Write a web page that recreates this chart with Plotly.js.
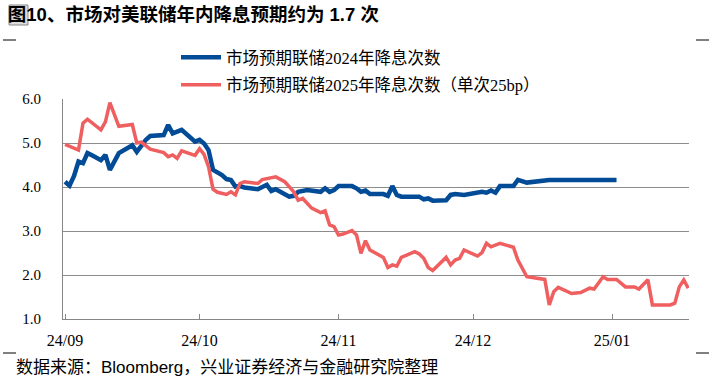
<!DOCTYPE html>
<html>
<head>
<meta charset="utf-8">
<script src="https://cdn.plot.ly/plotly-3.0.1.min.js"></script>
<style>html,body{margin:0;padding:0;background:#fff;}#chart{width:712px;height:380px;}</style>
</head>
<body>
<div id="chart"></div>
<script>
const titleText = "图10、市场对美联储年内降息预期约为 1.7 次";
const sourceText = "数据来源：Bloomberg，兴业证券经济与金融研究院整理";
const seriesNames = ["市场预期联储2024年降息次数", "市场预期联储2025年降息次数（单次25bp）"];
const tickDates = ["2024-09-01", "2024-10-01", "2024-11-01", "2024-12-01", "2025-01-01"];
const tickLabels = ["24/09", "24/10", "24/11", "24/12", "25/01"];

const dates2024 = ["2024-09-01","2024-09-02","2024-09-03","2024-09-04","2024-09-05","2024-09-06","2024-09-07","2024-09-09","2024-09-10","2024-09-11","2024-09-13","2024-09-15","2024-09-16","2024-09-17","2024-09-19","2024-09-20","2024-09-23","2024-09-24","2024-09-25","2024-09-27","2024-09-30",
"2024-10-01","2024-10-02","2024-10-03","2024-10-04","2024-10-06","2024-10-07","2024-10-08","2024-10-09","2024-10-10","2024-10-11","2024-10-14","2024-10-16","2024-10-17","2024-10-18","2024-10-21","2024-10-22","2024-10-23","2024-10-25","2024-10-28","2024-10-29","2024-10-30","2024-10-31",
"2024-11-01","2024-11-04","2024-11-05","2024-11-06","2024-11-07","2024-11-08","2024-11-11","2024-11-12","2024-11-13","2024-11-14","2024-11-15","2024-11-19","2024-11-20","2024-11-21","2024-11-22","2024-11-25","2024-11-26","2024-11-27","2024-11-29","2024-11-30",
"2024-12-01","2024-12-03","2024-12-04","2024-12-05","2024-12-06","2024-12-07","2024-12-10","2024-12-11","2024-12-13","2024-12-15","2024-12-18","2024-12-25","2025-01-02"];
const values2024 = [4.12,4.03,4.25,4.58,4.54,4.77,4.72,4.61,4.73,4.39,4.77,4.88,4.95,4.80,5.07,5.16,5.18,5.41,5.22,5.30,5.03,
5.07,4.99,4.84,4.39,4.27,4.18,4.16,4.01,4.02,3.99,3.95,4.05,3.91,3.95,3.78,3.80,3.89,3.93,3.89,3.97,3.89,3.93,
4.02,4.02,3.97,3.89,3.92,3.84,3.84,3.80,4.02,3.82,3.78,3.78,3.72,3.74,3.69,3.70,3.82,3.84,3.82,3.84,
3.87,3.89,3.87,3.92,3.87,4.02,4.02,4.16,4.10,4.12,4.16,4.16,4.16];

const dates2025 = ["2024-09-01","2024-09-02","2024-09-04","2024-09-05","2024-09-06","2024-09-09","2024-09-10","2024-09-11","2024-09-13","2024-09-16","2024-09-17","2024-09-18","2024-09-20","2024-09-23","2024-09-24","2024-09-25","2024-09-26","2024-09-27","2024-09-30",
"2024-10-01","2024-10-02","2024-10-03","2024-10-04","2024-10-05","2024-10-07","2024-10-08","2024-10-09","2024-10-10","2024-10-11","2024-10-14","2024-10-15","2024-10-18","2024-10-20","2024-10-21","2024-10-22","2024-10-23","2024-10-24","2024-10-26","2024-10-28","2024-10-29","2024-10-30","2024-10-31",
"2024-11-01","2024-11-02","2024-11-04","2024-11-05","2024-11-06","2024-11-07","2024-11-08","2024-11-11","2024-11-12","2024-11-13","2024-11-14","2024-11-15","2024-11-18","2024-11-19","2024-11-20","2024-11-21","2024-11-22","2024-11-25","2024-11-26","2024-11-27","2024-11-28","2024-11-29",
"2024-12-01","2024-12-02","2024-12-03","2024-12-04","2024-12-05","2024-12-07","2024-12-10","2024-12-11","2024-12-13","2024-12-15","2024-12-17","2024-12-18","2024-12-19","2024-12-20","2024-12-23","2024-12-25","2024-12-27","2024-12-28","2024-12-30","2024-12-31",
"2025-01-02","2025-01-04","2025-01-06","2025-01-07","2025-01-09","2025-01-10","2025-01-14","2025-01-15","2025-01-16","2025-01-17","2025-01-18"];
const values2025 = [4.97,4.92,4.84,5.45,5.54,5.30,5.48,5.92,5.38,5.42,5.00,5.02,4.86,4.78,4.69,4.73,4.65,4.82,4.72,
4.87,4.74,4.46,3.95,3.88,3.83,3.89,3.82,4.08,4.12,4.08,4.17,4.23,4.12,4.01,3.89,3.70,3.74,3.52,3.42,3.46,3.14,3.10,
2.91,2.93,3.01,2.91,2.49,2.78,2.57,2.40,2.17,2.23,2.20,2.40,2.53,2.48,2.38,2.17,2.10,2.40,2.23,2.34,2.38,2.57,
2.49,2.43,2.51,2.72,2.64,2.72,2.63,2.34,1.96,1.92,1.90,1.32,1.62,1.72,1.58,1.60,1.70,1.68,1.96,1.90,
1.90,1.73,1.73,1.68,1.89,1.32,1.32,1.36,1.73,1.89,1.70];

const serif = "'Times New Roman', 'Liberation Serif', 'Noto Sans CJK SC', serif";
const sans = "Arial, 'Liberation Sans', 'Noto Sans CJK SC', sans-serif";
const axisGray = "#868686";

const traces = [
  {x: dates2024, y: values2024, name: seriesNames[0], type: "scatter", mode: "lines",
   line: {color: "#024B96", width: 4.5}, legendgroup: "a"},
  {x: dates2025, y: values2025, name: seriesNames[1], type: "scatter", mode: "lines",
   line: {color: "#EF5F60", width: 3.5}, legendgroup: "b"}
];

function px2x(p){ return (p - 63) / 626; }
function px2y(p){ return (319 - p) / 220; }

const markShapes = [];
[[3,16],[696,709]].forEach(function(seg){
  [40, 353].forEach(function(yy){
    markShapes.push({type:"line", xref:"paper", yref:"paper", x0:px2x(seg[0]), x1:px2x(seg[1]), y0:px2y(yy), y1:px2y(yy), line:{color:"#000", width:1}});
  });
});
markShapes.push({type:"rect", xref:"paper", yref:"paper", x0:px2x(9), x1:px2x(28), y0:px2y(25), y1:px2y(5),
  fillcolor:"rgba(190,190,190,0.55)", line:{color:"#888888", width:1}, layer:"above"});

const layout = {
  width: 712, height: 380,
  margin: {l: 63, r: 23, t: 99, b: 61, pad: 0},
  paper_bgcolor: "#ffffff", plot_bgcolor: "rgba(0,0,0,0)",
  title: {text: "<b>" + titleText + "</b>", x: 0.011, xanchor: "left", xref: "container",
          y: 1 - 15/380, yanchor: "middle", yref: "container",
          font: {family: sans, size: 18.5, color: "#000"}},
  showlegend: true,
  legend: {x: px2x(176), xanchor: "left", y: px2y(40), yanchor: "top",
           orientation: "v", traceorder: "grouped", tracegroupgap: 3,
           font: {family: serif, size: 16.5, color: "#000"}, bgcolor: "rgba(0,0,0,0)", itemwidth: 40},
  xaxis: {type: "date", range: ["2024-08-31 13:00", "2025-01-18 04:00"],
          tickmode: "array", tickvals: tickDates, ticktext: tickLabels,
          ticks: "inside", ticklen: 5, tickcolor: axisGray, tickwidth: 1,
          showline: true, linecolor: axisGray, linewidth: 1, showgrid: false, zeroline: false,
          ticklabelstandoff: 7,
          tickfont: {family: serif, size: 16, color: "#000"}, fixedrange: true},
  yaxis: {range: [1, 6], tickmode: "linear", tick0: 1, dtick: 1, tickformat: ".1f",
          showgrid: true, gridcolor: "#8c8c8c", gridwidth: 1,
          showline: true, linecolor: axisGray, linewidth: 1, ticks: "", zeroline: false,
          ticklabelstandoff: 18,
          tickfont: {family: serif, size: 15, color: "#000"}, fixedrange: true},
  shapes: markShapes,
  annotations: [
    {text: sourceText, xref: "paper", yref: "paper", x: px2x(14), y: px2y(367),
     xanchor: "left", yanchor: "middle", showarrow: false,
     font: {family: sans, size: 17, color: "#000"}}
  ]
};

Plotly.newPlot("chart", traces, layout, {displayModeBar: false, staticPlot: true});
</script>
</body>
</html>
